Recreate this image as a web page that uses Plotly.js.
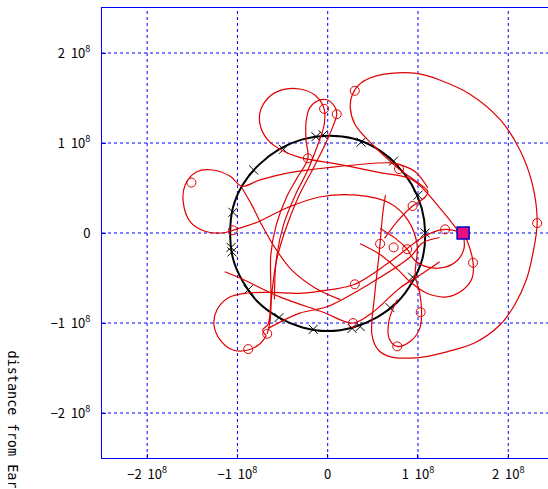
<!DOCTYPE html>
<html><head><meta charset="utf-8">
<script src="https://cdn.plot.ly/plotly-3.0.1.min.js"></script>
<style>html,body{margin:0;padding:0;background:#fff;overflow:hidden}</style>
</head><body><div id="chart" style="width:548px;height:489px"></div>
<script>
// units: 1e8 (distance from Earth)
const tickVals = [-2, -1, 0, 1, 2];
const tickText = ['\u22122  10<sup>8</sup>', '\u22121  10<sup>8</sup>', '0', '1  10<sup>8</sup>', '2  10<sup>8</sup>'];

// Moon orbit (black)
const moonX = [1.08,1.04,0.93,0.76,0.54,0.28,0.00,-0.28,-0.54,-0.76,-0.94,-1.05,-1.08,-1.05,-0.94,-0.77,-0.54,-0.28,0.00,0.28,0.54,0.77,0.94,1.05,1.08];
const moonY = [0.00,0.28,0.54,0.76,0.94,1.05,1.08,1.04,0.93,0.76,0.54,0.28,0.00,-0.28,-0.54,-0.77,-0.94,-1.05,-1.09,-1.05,-0.94,-0.77,-0.54,-0.28,0.00];
const moonMarkX = [-0.13,-0.05,0.37,0.73,1.00,1.08,0.94,0.69,0.36,0.27,-0.16,-0.54,-0.88,-1.06,-1.07,-1.05,-0.82,-0.49];
const moonMarkY = [1.07,1.09,1.01,0.80,0.42,0.00,-0.49,-0.83,-1.04,-1.06,-1.07,-0.94,-0.63,-0.21,-0.16,0.23,0.70,0.93];

// Spacecraft trajectory (red), traced strokes
const s1x = [0.64,0.61,0.58,0.56,0.52,0.49,0.56,0.71,0.91,1.05,1.32,1.63,1.91,2.07,2.20,2.27,2.32,2.27,2.13,1.91,1.58,1.24,1.00,0.77,0.52,0.36,0.27,0.25,0.30,0.41,0.56,0.69,0.79,0.93,1.05,1.11,1.08,0.94,0.78,0.63];
const s1y = [0.42,0.22,-0.12,-0.32,-0.69,-1.13,-1.30,-1.38,-1.39,-1.38,-1.32,-1.22,-1.02,-0.80,-0.52,-0.24,0.11,0.53,0.92,1.26,1.54,1.70,1.77,1.78,1.74,1.66,1.53,1.39,1.21,1.07,0.92,0.80,0.71,0.61,0.52,0.46,0.40,0.30,0.14,-0.06];
const s2x = [1.11,0.97,0.80,0.69,0.03,-0.42,-0.75,-0.95,-1.08,-1.27,-1.45,-1.58,-1.60,-1.52,-1.36,-1.17,-1.05,-0.78,-0.45,-0.09,0.32,0.69,0.89,0.99,0.97,1.02,1.04,1.02,0.92,0.77,0.68,0.68,0.77];
const s2y = [0.50,0.68,0.76,0.78,0.73,0.67,0.59,0.52,0.63,0.70,0.68,0.53,0.34,0.12,0.02,0.00,0.03,0.12,0.28,0.40,0.42,0.33,0.14,-0.13,-0.47,-0.67,-0.88,-1.06,-1.20,-1.26,-1.17,-0.97,-0.74];
const s3x = [-0.95,-0.84,-0.73,-0.58,-0.40,-0.14,0.14];
const s3y = [0.50,0.31,0.09,-0.17,-0.41,-0.61,-0.74];
const s4x = [1.50,1.30,1.08,0.69,0.30,0.03,-0.31,-0.64,-0.92,-1.10,-1.23,-1.26,-1.19,-1.05,-0.88,-0.75,-0.68];
const s4y = [0.00,0.04,-0.03,-0.32,-0.57,-0.63,-0.67,-0.66,-0.67,-0.72,-0.86,-1.02,-1.19,-1.30,-1.30,-1.23,-1.14];
const s5x = [-0.68,-0.72,-0.66,-0.63,-0.63,-0.57,-0.46,-0.34,-0.22,-0.24,-0.24,-0.20,-0.11,-0.01,0.08,0.10,0.06,-0.03,-0.16,-0.33,-0.47,-0.57,-0.62,-0.64,-0.67];
const s5y = [-1.14,-1.08,-1.01,-0.74,-0.24,0.09,0.39,0.61,0.83,1.03,1.23,1.39,1.47,1.48,1.40,1.32,1.19,0.98,0.72,0.39,0.03,-0.32,-0.69,-0.99,-1.12];
const s6x = [-0.59,-0.57,-0.49,-0.36,-0.22,-0.11,-0.04,-0.04,-0.14,-0.31,-0.51,-0.66,-0.75,-0.74,-0.64,-0.47,-0.31,0.14,0.58,0.94,1.24,1.44];
const s6y = [-0.74,-0.30,0.09,0.42,0.70,0.98,1.20,1.38,1.53,1.60,1.59,1.50,1.34,1.17,1.01,0.90,0.84,0.76,0.67,0.59,0.28,0.03];
const s7x = [1.50,1.51,1.44,1.30,1.11,0.96,0.88,0.75,0.58];
const s7y = [0.00,-0.17,-0.30,-0.38,-0.38,-0.30,-0.18,-0.06,0.05];
const s8x = [1.50,1.55,1.61,1.60,1.50,1.32,1.10,0.91,0.78,0.58,0.36];
const s8y = [0.00,-0.10,-0.33,-0.50,-0.63,-0.71,-0.67,-0.54,-0.41,-0.24,-0.12];
const s9x = [-1.14,-0.97,-0.53,-0.05,0.28,0.50,0.80,1.02,1.24];
const s9y = [-0.43,-0.50,-0.71,-0.88,-1.00,-0.88,-0.61,-0.47,-0.32];
const s10x = [-0.66,-0.31,-0.01,0.47,0.91,1.05,1.24];
const s10y = [-1.06,-0.89,-0.82,-0.56,-0.27,-0.11,-0.05];

const craftMarkX = [-1.51,-1.05,-0.88,-0.67,-0.22,-0.04,0.10,0.30,0.79,0.94,1.30,1.61,2.32,0.58,0.73,0.88,0.30,0.28,0.77,1.03];
const craftMarkY = [0.56,0.03,-1.29,-1.12,0.83,1.38,1.32,1.58,0.71,0.30,0.04,-0.33,0.11,-0.12,-0.16,-0.18,-0.57,-1.00,-1.26,-0.88];

const targetX = [1.50];
const targetY = [0.00];

const RED = '#e00000';
const BLUE = 'rgb(0,0,255)';
const strokes = [[s1x,s1y],[s2x,s2y],[s3x,s3y],[s4x,s4y],[s5x,s5y],[s6x,s6y],[s7x,s7y],[s8x,s8y],[s9x,s9y],[s10x,s10y]];
const traces = [];
traces.push({x: moonX, y: moonY, mode: 'lines', line: {color: '#000', width: 2, shape: 'spline'}, hoverinfo: 'skip'});
traces.push({x: moonMarkX, y: moonMarkY, mode: 'markers', marker: {symbol: 'x-thin-open', size: 9, color: '#000', line: {color: '#000', width: 1}}});
strokes.forEach(s => traces.push({x: s[0], y: s[1], mode: 'lines', line: {color: RED, width: 1.2, shape: 'spline', smoothing: 1}}));
traces.push({x: craftMarkX, y: craftMarkY, mode: 'markers', marker: {symbol: 'circle-open', size: 9, color: RED, line: {color: RED, width: 1}}});
traces.push({x: targetX, y: targetY, mode: 'markers', marker: {symbol: 'square', size: 12, color: '#e8107a', line: {color: '#0000cc', width: 1.5}}});

// grid lines at the tick values, drawn as dotted blue shapes
const shapes = [];
tickVals.forEach(v => {
  shapes.push({type: 'line', layer: 'below', xref: 'x', yref: 'paper', x0: v, x1: v, y0: 0, y1: 1, line: {color: BLUE, width: 1, dash: 'dot'}});
  shapes.push({type: 'line', layer: 'below', xref: 'paper', yref: 'y', x0: 0, x1: 1, y0: v, y1: v, line: {color: BLUE, width: 1, dash: 'dot'}});
});

const axisCommon = {
  tickvals: tickVals, ticktext: tickText,
  showgrid: false,
  zeroline: false, showline: true, linecolor: BLUE, linewidth: 1,
  ticks: 'inside', ticklen: 4, tickcolor: BLUE, tickwidth: 1,
  tickfont: {family: 'Noto Sans CJK JP, sans-serif', size: 13, color: '#000'}
};
const layout = {
  width: 548, height: 489,
  margin: {l: 102, r: 0, t: 8, b: 31},
  paper_bgcolor: '#fff', plot_bgcolor: '#fff',
  showlegend: false,
  shapes: shapes,
  xaxis: Object.assign({}, axisCommon, {range: [-2.5, 2.44], mirror: true, ticklabelstandoff: 4}),
  yaxis: Object.assign({}, axisCommon, {range: [-2.5, 2.5], mirror: false, ticklabelstandoff: 8}),
  annotations: [{
    text: 'distance from Earth', textangle: 90, showarrow: false,
    xref: 'paper', yref: 'paper', x: -0.2, y: 0.244, xanchor: 'center', yanchor: 'top',
    font: {family: 'DejaVu Sans Mono, monospace', size: 13.5, color: '#000'}
  }]
};
Plotly.newPlot('chart', traces, layout, {displayModeBar: false, staticPlot: true});
</script></body></html>
